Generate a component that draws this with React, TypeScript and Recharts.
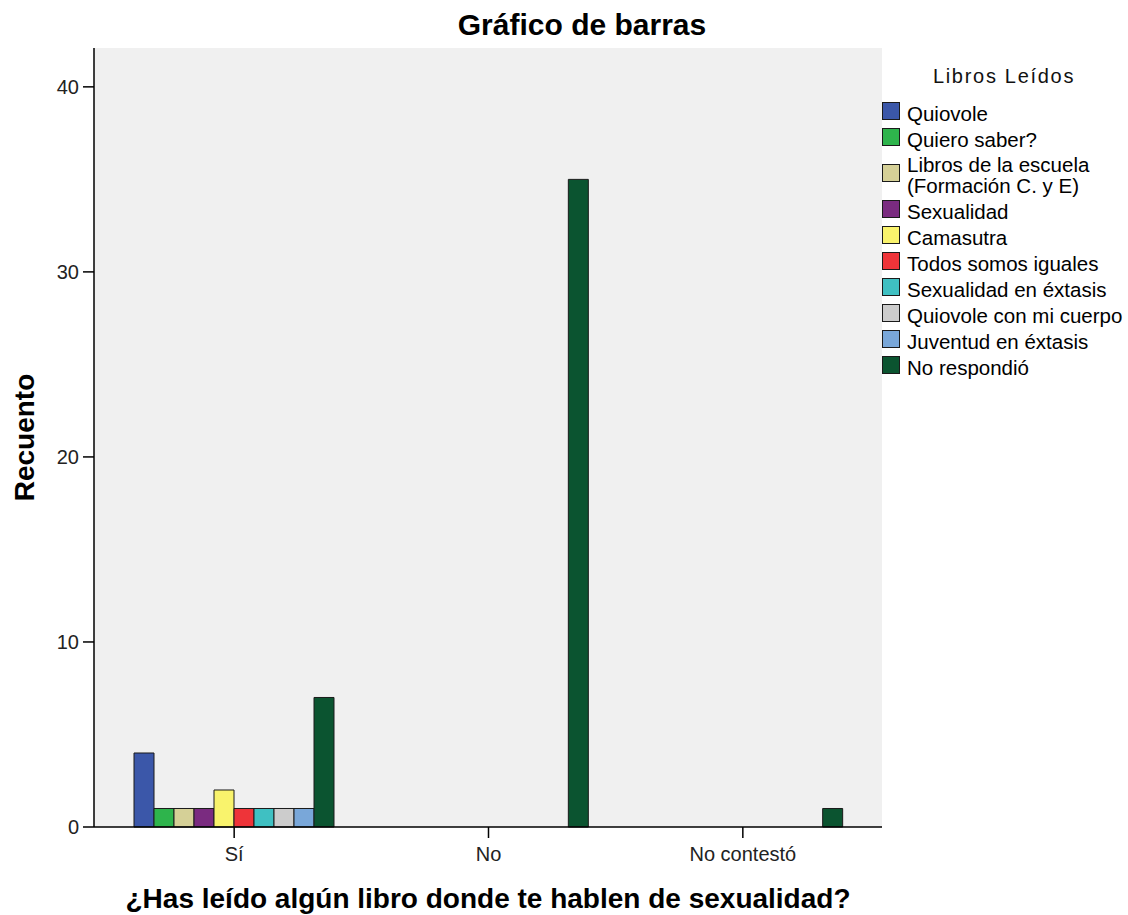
import React from "react";
import { BarChart, Bar, XAxis, YAxis, Legend, CartesianGrid } from "recharts";

const FONT = "'Liberation Sans', Arial, sans-serif";

const categories = ["Sí", "No", "No contestó"];

const seriesNames = [
  "Quiovole",
  "Quiero saber?",
  "Libros de la escuela\n(Formación C. y E)",
  "Sexualidad",
  "Camasutra",
  "Todos somos iguales",
  "Sexualidad en éxtasis",
  "Quiovole con mi cuerpo",
  "Juventud en éxtasis",
  "No respondió",
];

const seriesColors = [
  "#3b57a9",
  "#2eb44c",
  "#d5d097",
  "#7a2b80",
  "#f9f36c",
  "#ee3439",
  "#3fc0c2",
  "#cccccc",
  "#79a7d9",
  "#0b5430",
];

// counts per book, in category order (Sí, No, No contestó)
const quiovole = [4, 0, 0];
const quieroSaber = [1, 0, 0];
const librosEscuela = [1, 0, 0];
const sexualidad = [1, 0, 0];
const camasutra = [2, 0, 0];
const todosIguales = [1, 0, 0];
const sexualidadExtasis = [1, 0, 0];
const quiovoleCuerpo = [1, 0, 0];
const juventudExtasis = [1, 0, 0];
const noRespondio = [7, 35, 1];

const seriesValues = [
  quiovole,
  quieroSaber,
  librosEscuela,
  sexualidad,
  camasutra,
  todosIguales,
  sexualidadExtasis,
  quiovoleCuerpo,
  juventudExtasis,
  noRespondio,
];

const yTicks = [0, 10, 20, 30, 40];

const data = categories.map((cat, i) => {
  const row: Record<string, string | number> = { cat };
  seriesValues.forEach((vals, j) => {
    row[`s${j}`] = vals[i];
  });
  return row;
});

function YTitle(props: any) {
  const vb = props.viewBox || { x: 0, y: 48, width: 94, height: 779 };
  const x = vb.x + 24;
  const y = vb.y + vb.height / 2;
  return (
    <text
      x={x}
      y={y}
      transform={`rotate(-90, ${x}, ${y})`}
      textAnchor="middle"
      dominantBaseline="central"
      fontFamily={FONT}
      fontWeight="bold"
      fontSize={28}
      fill="#000"
    >
      Recuento
    </text>
  );
}

function XTitle(props: any) {
  const vb = props.viewBox || { x: 94, y: 827, width: 788, height: 88 };
  return (
    <text
      x={vb.x + vb.width / 2}
      y={vb.y + 81}
      textAnchor="middle"
      fontFamily={FONT}
      fontWeight="bold"
      fontSize={28}
      fill="#000"
    >
      ¿Has leído algún libro donde te hablen de sexualidad?
    </text>
  );
}

const seriesIndex = (entry: any) => Number(String(entry.dataKey).slice(1));

function renderLegend(props: any) {
  const payload = [...(props.payload || [])].sort((a, b) => seriesIndex(a) - seriesIndex(b));
  return (
    <div style={{ fontFamily: FONT, fontSize: 20.5, color: "#000", width: 248 }}>
      <div
        style={{
          textAlign: "center",
          fontSize: 20,
          letterSpacing: 1.7,
          lineHeight: "22px",
          paddingTop: 10,
          height: 33,
          color: "#111",
        }}
      >
        Libros Leídos
      </div>
      {payload.map((entry: any, i: number) => {
        const lines = String(entry.value).split("\n");
        return (
          <div
            key={i}
            style={{
              display: "flex",
              alignItems: "center",
              height: lines.length > 1 ? 46 : 26,
            }}
          >
            <div
              style={{
                width: 16,
                height: 16,
                marginLeft: 2,
                background: entry.color,
                border: "1px solid #1a1a1a",
                flex: "none",
              }}
            />
            <div style={{ marginLeft: 7, lineHeight: "21px", position: "relative", top: 2, whiteSpace: "nowrap" }}>
              {lines.map((l, k) => (
                <div key={k}>{l}</div>
              ))}
            </div>
          </div>
        );
      })}
    </div>
  );
}

export default function App() {
  return (
    <div style={{ position: "absolute", left: 0, top: 0, width: 1128, height: 915, background: "#fff" }}>
      <div
        style={{
          position: "absolute",
          left: 382,
          top: 10,
          width: 400,
          textAlign: "center",
          fontFamily: FONT,
          fontWeight: "bold",
          fontSize: 30,
          lineHeight: "30px",
          color: "#000",
        }}
      >
        Gráfico de barras
      </div>
      <BarChart
        width={1128}
        height={915}
        data={data}
        margin={{ top: 48, right: 246, bottom: 0, left: 0 }}
        barGap={0}
        barSize={20}
      >
        <CartesianGrid fill="#f0f0f0" horizontal={false} vertical={false} />
        <XAxis
          dataKey="cat"
          height={88}
          interval={0}
          padding={{ left: 13, right: 12 }}
          tickSize={11}
          tickMargin={9}
          axisLine={{ stroke: "#000", strokeWidth: 1.5 }}
          tickLine={{ stroke: "#000", strokeWidth: 1.5 }}
          tick={{ fontFamily: FONT, fontSize: 20, fill: "#222" }}
          label={<XTitle />}
        />
        <XAxis
          xAxisId="top"
          orientation="top"
          dataKey="cat"
          height={0}
          tick={false}
          tickLine={false}
          axisLine={{ stroke: "#777", strokeWidth: 1.5 }}
        />
        <YAxis
          width={94}
          domain={[0, 42.1]}
          ticks={yTicks}
          tickSize={11}
          tickMargin={4}
          axisLine={{ stroke: "#000", strokeWidth: 1.5 }}
          tickLine={{ stroke: "#000", strokeWidth: 1.5 }}
          tick={{ fontFamily: FONT, fontSize: 20, fill: "#222" }}
          label={<YTitle />}
        />
        <YAxis
          yAxisId="right"
          orientation="right"
          width={0}
          domain={[0, 42.1]}
          tick={false}
          tickLine={false}
          axisLine={{ stroke: "#444", strokeWidth: 1.5 }}
        />
        <Legend
          layout="vertical"
          align="center"
          verticalAlign="middle"
          wrapperStyle={{ left: 880, top: 55, width: 248 }}
          content={renderLegend}
        />
        {seriesNames.map((name, j) => (
          <Bar
            key={name}
            dataKey={`s${j}`}
            name={name}
            fill={seriesColors[j]}
            stroke="#1a1a1a"
            strokeWidth={1}
            isAnimationActive={false}
          />
        ))}
      </BarChart>
    </div>
  );
}
